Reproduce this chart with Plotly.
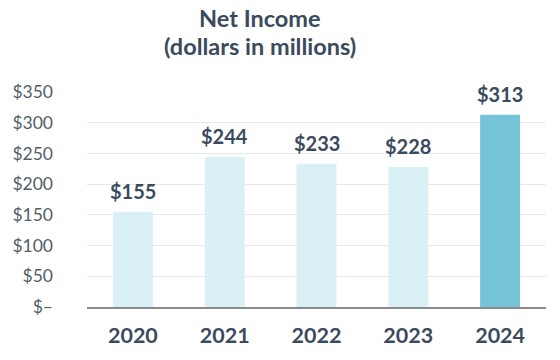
import plotly.graph_objects as go

years = ["2020", "2021", "2022", "2023", "2024"]
net_income = [155, 244, 233, 228, 313]
bar_colors = ["#d9f0f6", "#d9f0f6", "#d9f0f6", "#d9f0f6", "#74c3d6"]
tick_vals = [0, 50, 100, 150, 200, 250, 300, 350]
tick_text = ["$–", "$50", "$100", "$150", "$200", "$250", "$300", "$350"]
title_lines = ["Net Income", "(dollars in millions)"]

dark = "#3b4b5e"

fig = go.Figure(go.Bar(
    x=years, y=net_income,
    marker=dict(color=bar_colors, line=dict(width=0)),
    hoverinfo="x+y",
))

# value labels above bars (category axis: position by category index)
for i, v in enumerate(net_income):
    fig.add_annotation(
        x=i, y=v, xref="x", yref="y", text=f"${v}", showarrow=False,
        yanchor="bottom", yshift=7,
        font=dict(family="Lato", size=20, color=dark, weight="bold"),
    )

# title lines
for line, shift in zip(title_lines, [74, 46]):
    fig.add_annotation(
        x=0.5, y=1, xref="paper", yref="paper", text=line, showarrow=False,
        xanchor="center", yanchor="middle", yshift=shift, xshift=-57,
        font=dict(family="Lato", size=23.5, color=dark, weight="bold"),
    )

fig.update_layout(
    width=552, height=352,
    margin=dict(l=79, r=14, t=84, b=53),
    paper_bgcolor="white", plot_bgcolor="white",
    bargap=0.565,
    showlegend=False,
    xaxis=dict(
        type="category",
        automargin=False,
        showgrid=False, showline=True, linecolor="#8a8a8a", linewidth=1.5,
        ticks="", tickfont=dict(family="Lato", size=21.5, color=dark, weight="bold"),
        ticklabelstandoff=8,
    ),
    yaxis=dict(
        automargin=False,
        range=[0, 350], tickvals=tick_vals, ticktext=tick_text,
        showgrid=True, gridcolor="#e8e8e8", gridwidth=1,
        zeroline=False, ticks="",
        tickfont=dict(family="Lato", size=17.5, color="#555e66"),
        ticklabelstandoff=33,
    ),
)

fig.write_html("out.html")
